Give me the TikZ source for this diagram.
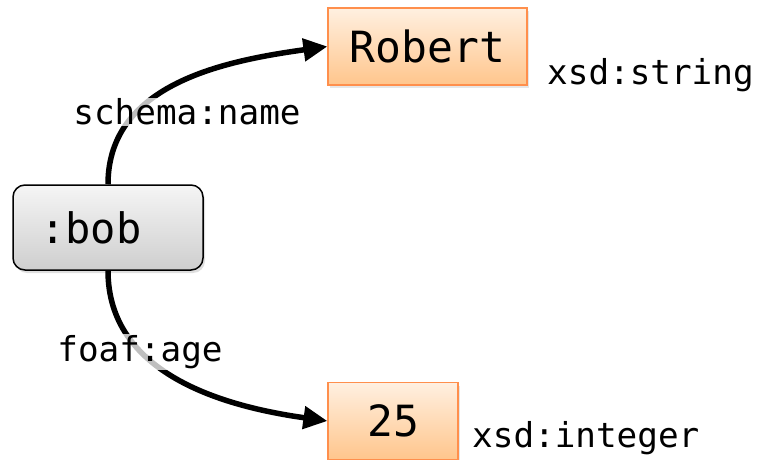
\documentclass[tikz,border=0pt]{standalone}
\usepackage{fontspec}
\setmonofont{DejaVu Sans Mono}
\usetikzlibrary{arrows.meta,shadows}
\begin{document}
\begin{tikzpicture}[x=1pt,y=1pt,
  resnode/.style={draw=black, line width=1.5pt, rounded corners=12pt,
    top color=gray!8, bottom color=gray!38, minimum width=190pt, minimum height=85pt,
    font=\ttfamily\fontsize{42}{48}\selectfont, drop shadow={opacity=0.25, shadow xshift=2pt, shadow yshift=-3pt}},
  litnode/.style={draw=orange!75!red!70!white, line width=1.2pt,
    top color=orange!12, bottom color=orange!45, minimum height=77pt,
    font=\ttfamily\fontsize{43}{48}\selectfont, drop shadow={opacity=0.2, shadow xshift=2pt, shadow yshift=-3pt}},
  edgelabel/.style={fill=white, fill opacity=0.75, text opacity=1, inner sep=1pt,
    font=\ttfamily\fontsize{34.3}{40}\selectfont},
  typelabel/.style={anchor=west, inner sep=0pt, font=\ttfamily\fontsize{34.3}{40}\selectfont},
  edge/.style={line width=5.5pt, -{Triangle[length=24pt,width=22pt]}}
]
\useasboundingbox (0,0) rectangle (758,459);
\node[resnode] (bob) at (108,231.5) {:bob\kern34pt\relax};
\node[litnode, minimum width=199pt] (robert) at (427.5,412.5) {Robert};
\node[litnode, minimum width=130pt] (age) at (393,38) {25};
\draw[edge] (bob.north) to[out=90, in=188] (robert.west);
\draw[edge] (bob.south) to[out=-90, in=172] (age.west);
\node[edgelabel] (lname) at (187,347) {schema:name};
\node[edgelabel] (lage) at (140,107) {foaf:age};
\node[typelabel] (tstring) at (547,384) {xsd:string};
\node[typelabel] (tint) at (472,21) {xsd:integer};
\end{tikzpicture}
\end{document}
